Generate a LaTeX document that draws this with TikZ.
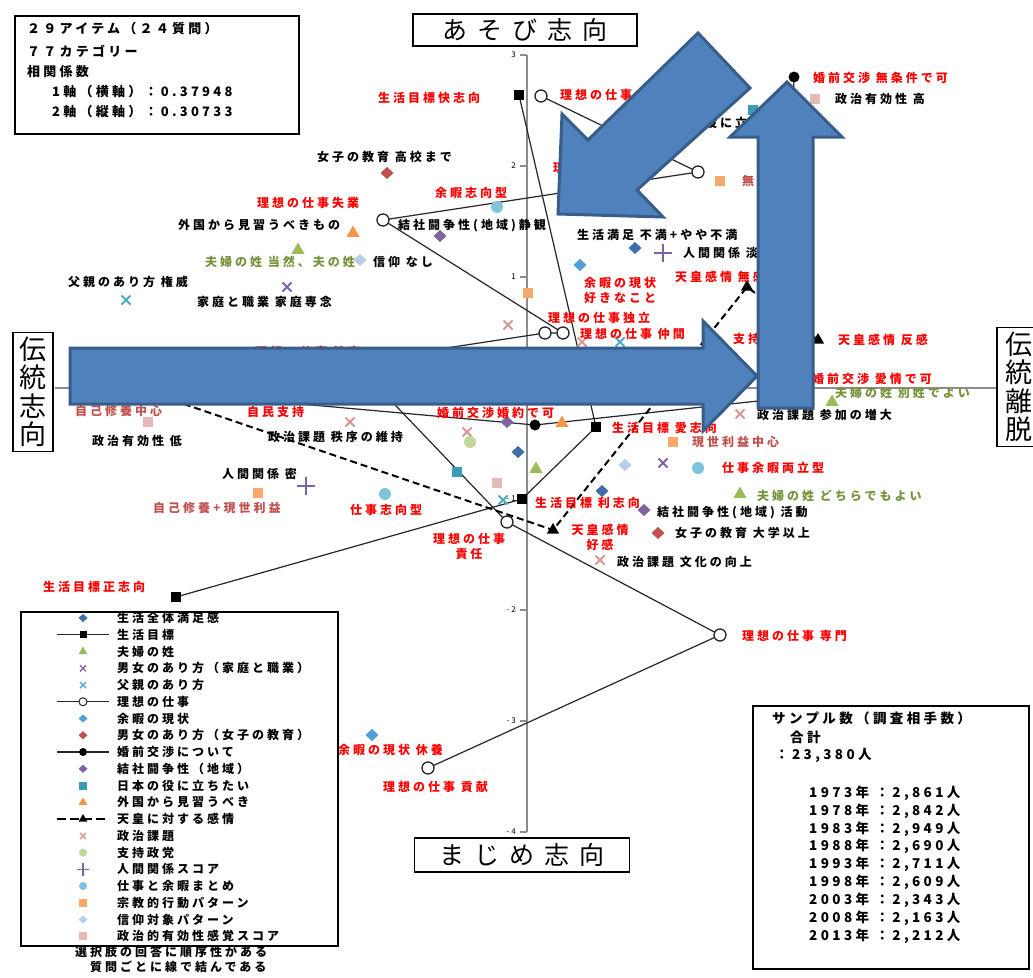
\documentclass[tikz,border=0pt]{standalone}
\usepackage{fontspec}
\setmainfont{Noto Sans CJK JP}
\newfontfamily\jp{Noto Sans CJK JP}[LetterSpace=25]
\newfontfamily\jt{Noto Sans CJK JP}[LetterSpace=40]
\usetikzlibrary{shapes.geometric,shapes.misc}
\pgfdeclarelayer{bg}
\pgfsetlayers{bg,main}
\definecolor{arrfill}{HTML}{4F81BD}
\definecolor{arrdraw}{HTML}{385D8A}
\definecolor{lred}{HTML}{FF0000}
\definecolor{lbrown}{HTML}{C0504D}
\definecolor{lgreen}{HTML}{77933C}
\definecolor{csat}{HTML}{3F6FAA}
\definecolor{cyoka}{HTML}{4F9FD8}
\definecolor{cred}{HTML}{C0504D}
\definecolor{cpur}{HTML}{8064A2}
\definecolor{cteal}{HTML}{4BACC6}
\definecolor{ctsq}{HTML}{3B9CB6}
\definecolor{corg}{HTML}{F79646}
\definecolor{cgrn}{HTML}{9BBB59}
\definecolor{cpx}{HTML}{D99694}
\definecolor{clg}{HTML}{C3D69B}
\definecolor{clb}{HTML}{7FC4DC}
\definecolor{cosq}{HTML}{F9A86C}
\definecolor{clav}{HTML}{B9CDE5}
\definecolor{cpsq}{HTML}{E6B9B8}
\newcommand\lfont{\jp\bfseries\fontsize{12}{15}\selectfont}
\tikzset{
  mk/.style={inner sep=0pt, outer sep=0pt},
  dia/.style={mk, diamond, minimum width=13pt, minimum height=12pt, fill=#1},
  sq/.style={mk, rectangle, minimum size=10.5pt, fill=#1},
  tri/.style={mk, regular polygon, regular polygon sides=3, minimum size=15pt, fill=#1},
  bub/.style={mk, circle, minimum size=12pt, fill=#1},
  xm/.style={mk, cross out, minimum size=9pt, draw=#1, line width=2pt},
  pm/.style={mk, cross out, rotate=45, minimum size=13pt, draw=#1, line width=1.6pt},
  oc/.style={mk, circle, minimum size=12pt, draw=black!85, fill=white, line width=1.3pt},
  bsq/.style={mk, rectangle, minimum size=10pt, fill=black},
  bdot/.style={mk, circle, minimum size=11pt, fill=black},
  btri/.style={mk, regular polygon, regular polygon sides=3, minimum size=14pt, fill=black},
  ser/.style={draw=black!85, line width=1.2pt},
  serd/.style={draw=black, line width=2pt, dash pattern=on 7pt off 4pt},
  lb/.style={anchor=west, inner sep=0pt, font=\lfont, text=#1},
  lb/.default=black,
  lbc/.style={anchor=center, align=center, inner sep=0pt, font=\lfont, text=#1},
  lbc/.default=black,
  axisline/.style={draw=black!45, line width=1.6pt},
  ticklab/.style={anchor=east, inner sep=0pt, font=\jp\fontsize{8}{9}\selectfont},
  titlebox/.style={draw=black, line width=1.5pt, inner sep=0pt},
  vtitle/.style={titlebox, align=center, font=\fontsize{27}{28.5}\selectfont},
  bigarrow/.style={fill=arrfill, draw=arrdraw, line width=3pt, line join=miter},
}
\begin{document}
\begin{tikzpicture}[x=1pt,y=-1pt]
\useasboundingbox (0,0) rectangle (1033,977);
\begin{pgfonlayer}{bg}
\fill[white] (0,0) rectangle (1033,977);
\end{pgfonlayer}

% ---------- axes ----------
\begin{pgfonlayer}{bg}
\draw[axisline] (527,55) -- (527,832);
\draw[axisline] (55,388) -- (997,388);
\end{pgfonlayer}
\foreach \v/\t in {55/3,166/2,277/1,388/0,499/-1,610/-2,721/-3,832/-4}{
  \draw[axisline, line width=1.2pt] (520,\v) -- (527,\v);
  \node[ticklab] (tk\v) at (516,\v) {\t};
}

% ---------- axis titles ----------
\node[titlebox, minimum width=224pt, minimum height=32pt] (ttop) at (525,30) {\jt\fontsize{25}{28}\selectfont あそび志向};
\node[titlebox, minimum width=215pt, minimum height=34pt] (tbot) at (522,855) {\jt\fontsize{25}{28}\selectfont まじめ志向};
\node[vtitle, minimum width=40pt, minimum height=119pt] (tleft) at (33,392) {伝\\統\\志\\向};
\node[vtitle, minimum width=44pt, minimum height=119pt] (tright) at (1019,387) {伝\\統\\離\\脱};

% ---------- info box ----------
\node[draw, line width=1.5pt, minimum width=284pt, minimum height=118pt, anchor=north west, inner sep=0pt] (info) at (14,15) {};
\node[lb, font=\jp\bfseries\fontsize{13}{15}\selectfont] (i1) at (27,29) {２９アイテム（２４質問）};
\node[lb, font=\jp\bfseries\fontsize{13}{15}\selectfont] (i2) at (27,51) {７７カテゴリー};
\node[lb, font=\jp\bfseries\fontsize{13}{15}\selectfont] (i3) at (27,72) {相関係数};
\node[lb, font=\jp\bfseries\fontsize{13}{15}\selectfont] (i4) at (52,92) {1軸（横軸）：0.37948};
\node[lb, font=\jp\bfseries\fontsize{13}{15}\selectfont] (i5) at (52,112) {2軸（縦軸）：0.30733};

% ---------- series markers ----------
\node[bsq] (gk) at (519,95) {};
\node[bsq] (ga) at (596,427) {};
\node[bsq] (gr) at (522,499) {};
\node[bsq] (gs) at (176,597) {};

\node[oc] (rj) at (541,96) {};
\node[oc] (rs) at (698,172) {};
\node[oc] (rf) at (383,220) {};
\node[oc] (rn) at (563,333) {};
\node[oc] (rd) at (545,333) {};
\node[oc] (rk) at (354,362) {};
\node[oc] (rr) at (507,522) {};
\node[oc] (rm) at (720,635) {};
\node[oc] (rc) at (428,768) {};

\node[bdot] (kf) at (100,386) {};
\node[bdot] (kk) at (535,425) {};
\node[bdot] (ka) at (786,398) {};
\node[bdot] (km) at (794,77) {};

\node[btri] (ts) at (90,372) {};
\node[btri] (tk) at (553,530) {};
\node[btri] (tm) at (747,287) {};
\node[btri] (th) at (818,340) {};

\begin{pgfonlayer}{bg}
\draw[ser] (gs.center) -- (gr.center) -- (ga.center) -- (gk.center);
\draw[ser] (rj.center) -- (rs.center) -- (rf.center) -- (rn.center) -- (rd.center) -- (rk.center) -- (rr.center) -- (rm.center) -- (rc.center);
\draw[ser] (kf.center) -- (kk.center) -- (ka.center) -- (km.center);
\draw[serd] (ts.center) -- (tk.center) -- (tm.center) -- (th.center);
\end{pgfonlayer}

% ---------- scatter markers ----------
\node[dia=csat] (s1) at (635,248) {};
\node[dia=csat] (s2) at (518,452) {};
\node[dia=csat] (s3) at (602,491) {};
\node[dia=cyoka] (y1) at (580,265) {};
\node[dia=cyoka] (y2) at (372,735) {};
\node[dia=cred] (e1) at (387,173) {};
\node[dia=cred] (e2) at (658,533) {};
\node[dia=cpur] (c1) at (440,236) {};
\node[dia=cpur] (c2) at (507,422) {};
\node[dia=cpur] (c3) at (644,510) {};
\node[tri=cgrn] (f1) at (298,250) {};
\node[tri=cgrn] (f2) at (536,469) {};
\node[tri=cgrn] (f3) at (740,494) {};
\node[tri=cgrn] (f4) at (832,402) {};
\node[xm=cpur] (m1) at (287,287) {};
\node[xm=cpur] (m2) at (663,463) {};
\node[xm=cteal] (p1) at (126,300) {};
\node[xm=cteal] (p2) at (620,342) {};
\node[xm=cteal] (p3) at (503,500) {};
\node[sq=ctsq] (n1) at (753,110) {};
\node[sq=ctsq] (n2) at (457,472) {};
\node[tri=corg] (g1) at (353,233) {};
\node[tri=corg] (g2) at (562,423) {};
\node[xm=cpx] (q1) at (508,325) {};
\node[xm=cpx] (q2) at (350,422) {};
\node[xm=cpx] (q3) at (467,432) {};
\node[xm=cpx] (q4) at (582,342) {};
\node[xm=cpx] (q5) at (740,414) {};
\node[xm=cpx] (q6) at (600,560) {};
\node[bub=clg] (v1) at (470,442) {};
\node[pm=cpur] (h1) at (306,486) {};
\node[pm=cpur] (h2) at (663,253) {};
\node[bub=clb] (w1) at (385,494) {};
\node[bub=clb] (w2) at (497,207) {};
\node[bub=clb] (w3) at (698,468) {};
\node[sq=cosq] (o1) at (528,293) {};
\node[sq=cosq] (o2) at (673,442) {};
\node[sq=cosq] (o3) at (258,493) {};
\node[sq=cosq] (o4) at (720,181) {};
\node[sq=cosq] (o5) at (100,398) {};
\node[dia=clav] (b1) at (625,465) {};
\node[dia=clav] (b2) at (360,260) {};
\node[sq=cpsq] (z1) at (148,422) {};
\node[sq=cpsq] (z2) at (815,99) {};
\node[sq=cpsq] (z3) at (497,483) {};

% ---------- labels ----------
\node[lb=lred] (L1) at (378,98) {生活目標快志向};
\node[lb=lred] (L2) at (560,95) {理想の仕事 時間};
\node[lb=lred] (L3) at (257,203) {理想の仕事失業};
\node[lb=lred] (L4) at (435,193) {余暇志向型};
\node[lb=lred] (L5) at (553,168) {理想の仕事 収入};
\node[lb=lred] (L6) at (675,277) {天皇感情 無感情};
\node[lbc=lred] (L7) at (620,290) {余暇の現状\\好きなこと};
\node[lb=lred] (L8) at (548,318) {理想の仕事独立};
\node[lb=lred] (L9) at (580,334) {理想の仕事 仲間};
\node[lb=lred] (L10) at (733,339) {支持なし};
\node[lb=lred] (L11) at (838,340) {天皇感情 反感};
\node[lb=lred] (L12) at (255,352) {理想の仕事 健康};
\node[lb=lred] (L13) at (812,379) {婚前交渉 愛情で可};
\node[lb=lred] (L14) at (247,412) {自民支持};
\node[lb=lred] (L15) at (437,413) {婚前交渉婚約で可};
\node[lb=lred] (L16) at (612,428) {生活目標 愛志向};
\node[lb=lred] (L17) at (350,510) {仕事志向型};
\node[lb=lred] (L18) at (722,468) {仕事余暇両立型};
\node[lb=lred] (L19) at (535,503) {生活目標 利志向};
\node[lbc=lred] (L20) at (600,537) {天皇感情\\好感};
\node[lbc=lred] (L21) at (469,546) {理想の仕事\\責任};
\node[lb=lred] (L22) at (43,587) {生活目標正志向};
\node[lb=lred] (L23) at (742,636) {理想の仕事 専門};
\node[lb=lred] (L24) at (338,750) {余暇の現状 休養};
\node[lb=lred] (L25) at (383,787) {理想の仕事 貢献};
\node[lb=lred] (L26) at (813,78) {婚前交渉 無条件で可};

\node[lb=lbrown] (B1) at (75,411) {自己修養中心};
\node[lb=lbrown] (B2) at (153,508) {自己修養+現世利益};
\node[lb=lbrown] (B3) at (692,442) {現世利益中心};
\node[lb=lbrown] (B4) at (742,181) {無行動};

\node[lb=lgreen] (G1) at (205,262) {夫婦の姓 当然、夫の姓};
\node[lb=lgreen] (G2) at (757,496) {夫婦の姓 どちらでもよい};
\node[lb=lgreen] (G3) at (835,393) {夫婦の姓 別姓でよい};

\node[lb] (K1) at (317,157) {女子の教育 高校まで};
\node[lb] (K2) at (398,226) {結社闘争性(地域)静観};
\node[lb] (K3) at (178,225) {外国から見習うべきもの};
\node[lb] (K4) at (373,262) {信仰 なし};
\node[lb] (K5) at (68,282) {父親のあり方 権威};
\node[lb] (K6) at (197,302) {家庭と職業 家庭専念};
\node[lb] (K7) at (577,235) {生活満足 不満+やや不満};
\node[lb] (K8) at (683,253) {人間関係 淡};
\node[lb] (K9) at (705,123) {役に立ちたくない};
\node[lb] (K10) at (835,99) {政治有効性 高};
\node[lb] (K11) at (92,441) {政治有効性 低};
\node[lb] (K12) at (268,437) {政治課題 秩序の維持};
\node[lb] (K13) at (222,474) {人間関係 密};
\node[lb] (K14) at (757,415) {政治課題 参加の増大};
\node[lb] (K15) at (657,513) {結社闘争性(地域) 活動};
\node[lb] (K16) at (675,533) {女子の教育 大学以上};
\node[lb] (K17) at (617,562) {政治課題 文化の向上};

% ---------- legend ----------
\node[draw, line width=1.5pt, anchor=north west, minimum width=317pt, minimum height=334pt, inner sep=0pt] (legbox) at (20,611) {};
\foreach \i/\t in {0/生活全体満足感,1/生活目標,2/夫婦の姓,3/男女のあり方（家庭と職業）,4/父親のあり方,5/理想の仕事,6/余暇の現状,7/男女のあり方（女子の教育）,8/婚前交渉について,9/結社闘争性（地域）,10/日本の役に立ちたい,11/外国から見習うべき,12/天皇に対する感情,13/政治課題,14/支持政党,15/人間関係スコア,16/仕事と余暇まとめ,17/宗教的行動パターン,18/信仰対象パターン,19/政治的有効性感覚スコア}{
  \node[lb] (lt\i) at (117,618+16.75*\i) {\t};
  \coordinate (la\i) at (57,618+16.75*\i);
  \coordinate (lm\i) at (83,618+16.75*\i);
  \coordinate (lz\i) at (109,618+16.75*\i);
}
\draw[ser] (la1) -- (lz1); \node[bsq, minimum size=7pt] (lk1) at (lm1) {};
\draw[ser] (la5) -- (lz5); \node[oc, minimum size=8pt, line width=1pt] (lk5) at (lm5) {};
\draw[ser] (la8) -- (lz8); \node[bdot, minimum size=8pt] (lk8) at (lm8) {};
\draw[serd, dash pattern=on 9pt off 4pt] (la12) -- (lz12); \node[btri, minimum size=10pt] (lk12) at (lm12) {};
\node[dia=csat, minimum width=9pt, minimum height=8pt] (lk0) at (lm0) {};
\node[tri=cgrn, minimum size=10pt] (lk2) at (lm2) {};
\node[xm=cpur, minimum size=6pt, line width=1.4pt] (lk3) at (lm3) {};
\node[xm=cteal, minimum size=6pt, line width=1.4pt] (lk4) at (lm4) {};
\node[dia=cyoka, minimum width=9pt, minimum height=8pt] (lk6) at (lm6) {};
\node[dia=cred, minimum width=9pt, minimum height=8pt] (lk7) at (lm7) {};
\node[dia=cpur, minimum width=9pt, minimum height=8pt] (lk9) at (lm9) {};
\node[sq=ctsq, minimum size=8pt] (lk10) at (lm10) {};
\node[tri=corg, minimum size=10pt] (lk11) at (lm11) {};
\node[xm=cpx, minimum size=6pt, line width=1.4pt] (lk13) at (lm13) {};
\node[bub=clg, minimum size=8pt] (lk14) at (lm14) {};
\node[pm=cpur, minimum size=9pt, line width=1.2pt] (lk15) at (lm15) {};
\node[bub=clb, minimum size=8pt] (lk16) at (lm16) {};
\node[sq=cosq, minimum size=8pt] (lk17) at (lm17) {};
\node[dia=clav, minimum width=9pt, minimum height=8pt] (lk18) at (lm18) {};
\node[sq=cpsq, minimum size=8pt] (lk19) at (lm19) {};
\node[lb] (note1) at (75,952) {選択肢の回答に順序性がある};
\node[lb] (note2) at (90,967) {質問ごとに線で結んである};

% ---------- sample box ----------
\node[draw, line width=1.5pt, anchor=north west, minimum width=276pt, minimum height=263pt, inner sep=0pt] (sbox) at (752,705) {};
\node[lb, font=\jp\bfseries\fontsize{13.5}{15}\selectfont] (sb1) at (772,718) {サンプル数（調査相手数）};
\node[lb, font=\jp\bfseries\fontsize{13.5}{15}\selectfont] (sb2) at (790,737) {合計};
\node[lb, font=\jp\bfseries\fontsize{13.5}{15}\selectfont] (sb3) at (775,755) {：23,380人};
\foreach \k/\yr/\n in {0/1973/{2,861},1/1978/{2,842},2/1983/{2,949},3/1988/{2,690},4/1993/{2,711},5/1998/{2,609},6/2003/{2,343},7/2008/{2,163},8/2013/{2,212}}{
  \node[lb, font=\jp\bfseries\fontsize{13.5}{15}\selectfont] (sy\k) at (809,793+17.9*\k) {\yr 年 ：\n 人};
}

% ---------- big arrows (on top) ----------
\draw[bigarrow] (70,348) -- (703,348) -- (703,321) -- (757,376) -- (703,431) -- (703,404) -- (70,404) -- cycle;
\draw[bigarrow] (758,408) -- (758,137) -- (730,137) -- (787,82) -- (842,137) -- (813,137) -- (813,408) -- cycle;
\draw[bigarrow] (698,33) -- (750,88) -- (637,190) -- (663,217) -- (558,214) -- (562,114) -- (588,140) -- cycle;
\end{tikzpicture}
\end{document}
